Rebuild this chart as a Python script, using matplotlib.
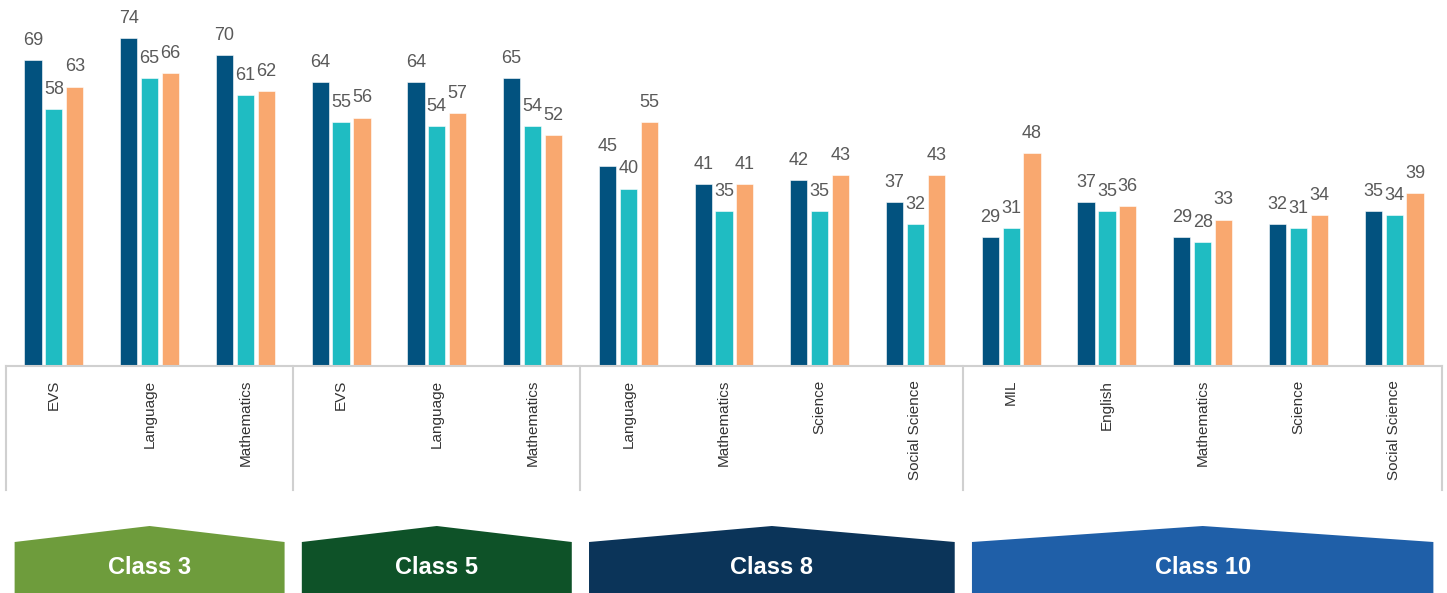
import matplotlib
matplotlib.use("Agg")
import matplotlib.pyplot as plt
from matplotlib import font_manager
from matplotlib.patches import Polygon
import numpy as np

# ─── Dados ────────────────────────────────────────────────────────────────────
subjects = ["EVS", "Language", "Mathematics",
            "EVS", "Language", "Mathematics",
            "Language", "Mathematics", "Science", "Social Science",
            "MIL", "English", "Mathematics", "Science", "Social Science"]
serie_a = [69, 74, 70, 64, 64, 65, 45, 41, 42, 37, 29, 37, 29, 32, 35]
serie_b = [58, 65, 61, 55, 54, 54, 40, 35, 35, 32, 31, 35, 28, 31, 34]
serie_c = [63, 66, 62, 56, 57, 52, 55, 41, 43, 43, 48, 36, 33, 34, 39]

classes = ["Class 3", "Class 5", "Class 8", "Class 10"]
class_sizes = [3, 3, 4, 5]

# ─── Estilo ───────────────────────────────────────────────────────────────────
COR_A = "#02527f"
COR_B = "#1fbcc2"
COR_C = "#f9a86f"
COR_CLASSES = ["#6e9c3c", "#0e5228", "#0b3459", "#1f5fa8"]
COR_TXT = "#595959"
COR_LINHA = "#d0d0d0"

nomes = {f.name for f in font_manager.fontManager.ttflist}
FONTE = ["Liberation Sans Narrow", "DejaVu Sans"] if "Liberation Sans Narrow" in nomes \
    else ["Liberation Sans", "DejaVu Sans"]
plt.rcParams["font.family"] = FONTE

W, H = 1447, 593
fig = plt.figure(figsize=(W / 100, H / 100), dpi=100)

# eixo principal em pixels da figura
x0, x1 = 6, 1442
base_y = 366
ax = fig.add_axes([x0 / W, (H - base_y) / H, (x1 - x0) / W, base_y / H])

n = len(subjects)
x = np.arange(n)
larg = 0.18
desl = 0.218
ymax = 82.5

for vals, cor, d in [(serie_a, COR_A, -desl), (serie_b, COR_B, 0), (serie_c, COR_C, desl)]:
    bars = ax.bar(x + d, vals, width=larg, color=cor, edgecolor="white", linewidth=0.4, zorder=2)
    for b, v in zip(bars, vals):
        ax.annotate(f"{v}", (b.get_x() + b.get_width() / 2, v), xytext=(0, 8),
                    textcoords="offset points", ha="center", va="bottom",
                    fontsize=13, color=COR_TXT)

ax.set_xlim(-0.5, n - 0.5)
ax.set_ylim(0, ymax)
ax.set_yticks([])
ax.set_xticks(x)
ax.set_xticklabels(subjects, rotation=90, fontsize=11, color="#333333", va="top")
ax.tick_params(axis="x", length=0, pad=10)
for s in ["top", "right", "left"]:
    ax.spines[s].set_visible(False)
ax.spines["bottom"].set_color(COR_LINHA)
ax.spines["bottom"].set_linewidth(1.5)

# divisórias entre as classes
limites = np.concatenate([[0], np.cumsum(class_sizes)]) - 0.5
y_fim = -(490 - base_y) / base_y
for xb in limites:
    ax.plot([xb, xb], [0, y_fim], color=COR_LINHA, linewidth=1.5,
            transform=ax.get_xaxis_transform(), clip_on=False)

# faixas das classes (eixo sobreposto em pixels)
axb = fig.add_axes([x0 / W, 0, (x1 - x0) / W, 1])
axb.set_xlim(-0.5, n - 0.5)
axb.set_ylim(H, 0)
axb.axis("off")
recuo = 0.09
for i, nome in enumerate(classes):
    a, b = limites[i] + recuo, limites[i + 1] - recuo
    meio = (limites[i] + limites[i + 1]) / 2
    pts = [(a, H + 5), (a, 542), (meio, 526), (b, 542), (b, H + 5)]
    axb.add_patch(Polygon(pts, closed=True, facecolor=COR_CLASSES[i], edgecolor="none"))
    axb.text(meio, 568, nome, ha="center", va="center", color="white",
             fontsize=17, fontweight="bold")

fig.savefig("out.png", dpi=100)
